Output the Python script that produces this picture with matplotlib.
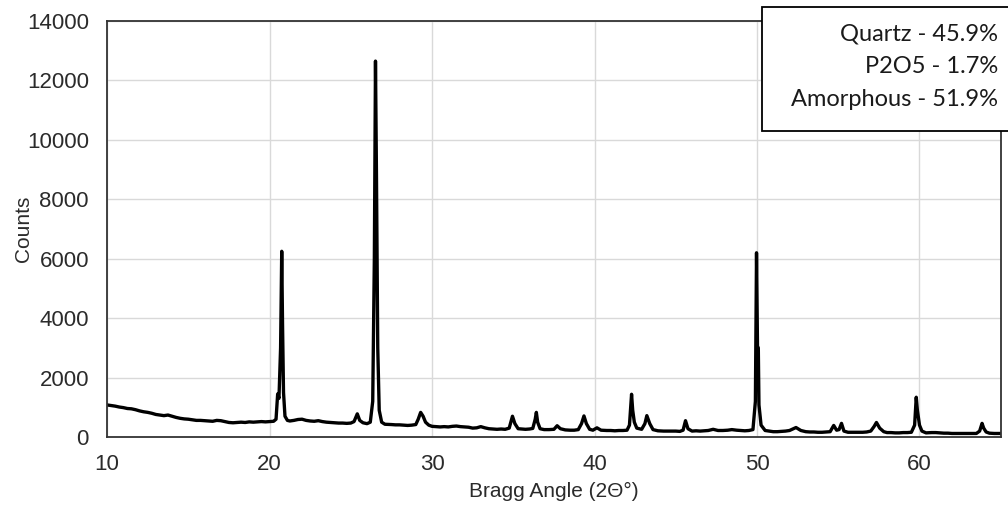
import matplotlib
matplotlib.use("Agg")
import matplotlib.pyplot as plt
from matplotlib.patches import Rectangle

# XRD trace (2-theta in degrees, counts)
two_theta = [
    10.0, 10.25, 10.5, 10.75, 11.0, 11.25, 11.5, 11.75, 12.0, 12.25, 12.5, 12.75,
    13.0, 13.25, 13.5, 13.75, 14.0, 14.25, 14.5, 14.75, 15.0, 15.25, 15.5, 15.75,
    16.0, 16.25, 16.5, 16.75, 17.0, 17.25, 17.5, 17.75, 18.0, 18.25, 18.5, 18.75,
    19.0, 19.25, 19.5, 19.75, 20.0, 20.25, 20.4, 20.5, 20.58, 20.68, 20.75, 20.8,
    20.86, 20.95, 21.1, 21.25, 21.5, 21.75, 22.0, 22.25, 22.5, 22.75, 23.0, 23.25,
    23.5, 23.75, 24.0, 24.25, 24.5, 24.75, 25.0, 25.2, 25.4, 25.55, 25.75, 26.0,
    26.2, 26.35, 26.45, 26.52, 26.58, 26.66, 26.75, 26.9, 27.1, 27.5, 27.75, 28.0,
    28.25, 28.5, 28.75, 29.0, 29.15, 29.3, 29.45, 29.6, 29.8, 30.0, 30.25, 30.5,
    30.75, 31.0, 31.25, 31.5, 31.75, 32.0, 32.25, 32.5, 32.75, 33.0, 33.25, 33.5,
    33.75, 34.0, 34.25, 34.5, 34.75, 34.95, 35.1, 35.3, 35.5, 35.75, 36.0, 36.2,
    36.35, 36.42, 36.5, 36.65, 36.9, 37.2, 37.5, 37.7, 37.9, 38.2, 38.5, 38.75,
    39.0, 39.2, 39.35, 39.5, 39.7, 39.9, 40.15, 40.4, 40.75, 41.0, 41.25, 41.5,
    41.75, 42.0, 42.15, 42.28, 42.35, 42.45, 42.6, 42.9, 43.1, 43.22, 43.4, 43.6,
    43.9, 44.25, 44.5, 44.75, 45.0, 45.25, 45.45, 45.6, 45.75, 46.0, 46.25, 46.5,
    46.75, 47.0, 47.3, 47.6, 47.9, 48.2, 48.45, 48.75, 49.0, 49.25, 49.5, 49.75,
    49.9, 49.97, 50.03, 50.08, 50.12, 50.25, 50.5, 50.75, 51.0, 51.25, 51.5, 51.75,
    52.0, 52.4, 52.7, 53.0, 53.25, 53.5, 53.75, 54.0, 54.25, 54.5, 54.72, 54.9,
    55.05, 55.2, 55.35, 55.6, 55.9, 56.25, 56.5, 56.75, 57.0, 57.2, 57.35, 57.55,
    57.8, 58.0, 58.25, 58.5, 58.75, 59.0, 59.25, 59.5, 59.7, 59.8, 59.87, 59.93,
    60.0, 60.15, 60.4, 60.75, 61.0, 61.25, 61.5, 61.75, 62.0, 62.25, 62.5, 62.75,
    63.0, 63.25, 63.5, 63.7, 63.85, 63.95, 64.1, 64.3, 64.6, 65.0,
]
counts = [
    1080, 1060, 1040, 1010, 990, 960, 950, 920, 880, 850, 830, 800,
    760, 740, 720, 740, 700, 660, 630, 610, 600, 580, 560, 560,
    550, 540, 530, 560, 550, 520, 490, 480, 490, 500, 490, 510,
    500, 510, 520, 510, 520, 530, 600, 1450, 1300, 3000, 6250, 3800,
    1500, 700, 560, 540, 560, 590, 600, 560, 540, 530, 550, 520,
    500, 490, 480, 470, 470, 460, 470, 520, 780, 560, 480, 450,
    500, 1200, 6000, 12650, 8850, 3000, 900, 500, 430, 420, 410, 410,
    400, 390, 400, 420, 600, 830, 700, 500, 400, 360, 350, 340,
    350, 340, 360, 370, 350, 340, 330, 300, 310, 350, 310, 280,
    270, 260, 270, 260, 300, 700, 450, 280, 270, 260, 270, 290,
    600, 830, 500, 280, 250, 250, 260, 380, 280, 240, 230, 230,
    250, 450, 710, 450, 260, 230, 310, 230, 220, 220, 210, 220,
    220, 230, 400, 1440, 900, 500, 300, 260, 450, 720, 450, 250,
    210, 200, 200, 200, 200, 190, 230, 550, 280, 200, 210, 200,
    210, 220, 260, 220, 220, 230, 250, 230, 220, 210, 220, 250,
    1200, 6200, 3060, 3000, 1080, 400, 220, 200, 180, 180, 190, 200,
    220, 320, 220, 180, 170, 170, 160, 160, 170, 180, 390, 230,
    250, 460, 200, 160, 160, 160, 160, 170, 200, 350, 490, 300,
    180, 150, 150, 140, 140, 150, 150, 160, 400, 1340, 900, 680,
    400, 200, 140, 150, 150, 140, 130, 130, 120, 120, 120, 120,
    120, 120, 120, 200, 460, 300, 170, 130, 120, 120,
]

x_ticks = [10, 20, 30, 40, 50, 60]
y_ticks = [0, 2000, 4000, 6000, 8000, 10000, 12000, 14000]
phases = ["Quartz - 45.9%", "P2O5 - 1.7%", "Amorphous - 51.9%"]

plt.rcParams["font.family"] = ["Liberation Sans", "DejaVu Sans"]

fig = plt.figure(figsize=(10.08, 5.07), dpi=100)
ax = fig.add_axes([0.1062, 0.138, 0.8866, 0.8206])

ax.plot(two_theta, counts, color="black", lw=2.4, solid_joinstyle="round")

ax.set_xlim(10, 65)
ax.set_ylim(0, 14000)
ax.set_xticks(x_ticks)
ax.set_yticks(y_ticks)
ax.grid(True, color="#d9d9d9", lw=1.0)
ax.set_axisbelow(True)
ax.tick_params(length=0, labelsize=16, colors="#2b2b2b")
ax.tick_params(axis="y", pad=13)
ax.tick_params(axis="x", pad=12)
for s in ax.spines.values():
    s.set_color("#333333")
    s.set_linewidth(1.3)

ax.set_xlabel("Bragg Angle (2Θ°)", fontsize=15, color="#2b2b2b", labelpad=5)
ax.set_ylabel("Counts", fontsize=15, color="#2b2b2b", labelpad=-4)

# phase box in the top right corner
box = Rectangle((762 / 1008, 1 - 131 / 507), 0.26, 124 / 507, transform=fig.transFigure,
                facecolor="white", edgecolor="black", lw=1.3, zorder=5)
fig.patches.append(box)
for i, txt in enumerate(phases):
    fig.text(998 / 1008, 1 - (34 + 32.5 * i) / 507, txt, ha="right", va="center",
             fontsize=17, family="Lato", color="#1a1a1a", zorder=6)

fig.savefig("out.png", dpi=100)
